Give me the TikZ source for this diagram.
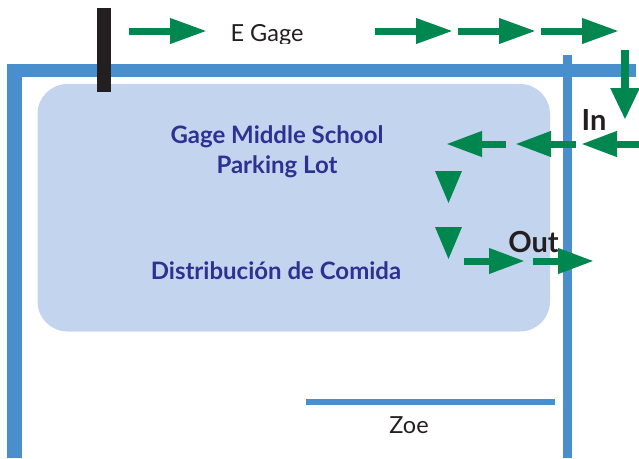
\documentclass[tikz,border=0pt]{standalone}
\usepackage{fontspec}
\setmainfont{Lato}
\usetikzlibrary{arrows.meta}
\definecolor{wallblue}{RGB}{74,143,205}
\definecolor{lotblue}{RGB}{195,213,238}
\definecolor{arrowgreen}{RGB}{0,135,80}
\definecolor{navytext}{RGB}{46,49,146}
\definecolor{inkblack}{RGB}{35,31,32}
\tikzset{
  x=1pt,y=-1pt,
  wall/.style={fill=wallblue,draw=none},
  flow/.style={draw=arrowgreen,line width=7pt,-{Triangle[length=37pt,width=24pt,fill=arrowgreen]}},
  flowshort/.style={draw=arrowgreen,line width=7pt,-{Triangle[length=36pt,width=24pt,fill=arrowgreen]}},
  flowdown/.style={draw=arrowgreen,line width=8pt,-{Triangle[length=32pt,width=27pt,fill=arrowgreen]}},
  headonly/.style={fill=arrowgreen,draw=none},
  lotlabel/.style={text=navytext,font=\bfseries\fontsize{24pt}{30pt}\selectfont,align=center,inner sep=0pt},
  streetlabel/.style={text=inkblack,font=\fontsize{23.5pt}{28pt}\selectfont,inner sep=0pt},
  signlabel/.style={text=inkblack,font=\bfseries\fontsize{29pt}{34pt}\selectfont,inner sep=0pt}
}
\begin{document}
\begin{tikzpicture}
\useasboundingbox (0,0) rectangle (639,458);
% lot
\fill[lotblue,rounded corners=30pt] (37.5,84) rectangle (550,331.5);
% streets
\fill[wall] (7,64) rectangle (636,77);
\fill[wall] (7,64) rectangle (22,458);
\fill[wall] (563,55) rectangle (572,458);
\fill[wall] (306,399) rectangle (555,405);
% barrier
\fill[inkblack] (97,8) rectangle (111,92);
% E Gage, cut off at the bottom
\begin{scope}
\clip (200,10) rectangle (330,43);
\node[streetlabel,anchor=base] (egage) at (267,41.5) {E Gage};
\end{scope}
% labels
\node[lotlabel] (school) at (277,151.5) {Gage Middle School\\Parking Lot};
\node[lotlabel] (dist) at (276,271) {Distribución de Comida};
\node[streetlabel] (zoe) at (409,425) {Zoe};
\node[signlabel] (in) at (594,120) {In};
\node[signlabel] (out) at (533.5,242) {Out};
% arrows along E Gage
\coordinate (a1s) at (129,31); \coordinate (a1e) at (207,31);
\coordinate (a2s) at (375,31); \coordinate (a2e) at (453,31);
\coordinate (a3s) at (458,31); \coordinate (a3e) at (536,31);
\coordinate (a4s) at (541,31); \coordinate (a4e) at (619,31);
\draw[flow] (a1s) -- (a1e);
\draw[flow] (a2s) -- (a2e);
\draw[flow] (a3s) -- (a3e);
\draw[flow] (a4s) -- (a4e);
% turn in
\coordinate (d1s) at (625,50); \coordinate (d1e) at (625,120);
\draw[flowdown] (d1s) -- (d1e);
% heading west
\coordinate (l1s) at (639,144); \coordinate (l1e) at (581,144);
\coordinate (l2s) at (576,144); \coordinate (l2e) at (515,144);
\coordinate (l3s) at (506,144); \coordinate (l3e) at (446,144);
\draw[flowshort] (l1s) -- (l1e);
\draw[flowshort] (l2s) -- (l2e);
\draw[flowshort] (l3s) -- (l3e);
% heads only, heading south
\fill[headonly] (435,171) -- (462,171) -- (448.5,203) -- cycle;
\fill[headonly] (435,227) -- (462,227) -- (448.5,259) -- cycle;
% heading out
\coordinate (r1s) at (464,261); \coordinate (r1e) at (525,261);
\coordinate (r2s) at (533,261); \coordinate (r2e) at (594,261);
\draw[flowshort] (r1s) -- (r1e);
\draw[flowshort] (r2s) -- (r2e);
\end{tikzpicture}
\end{document}
